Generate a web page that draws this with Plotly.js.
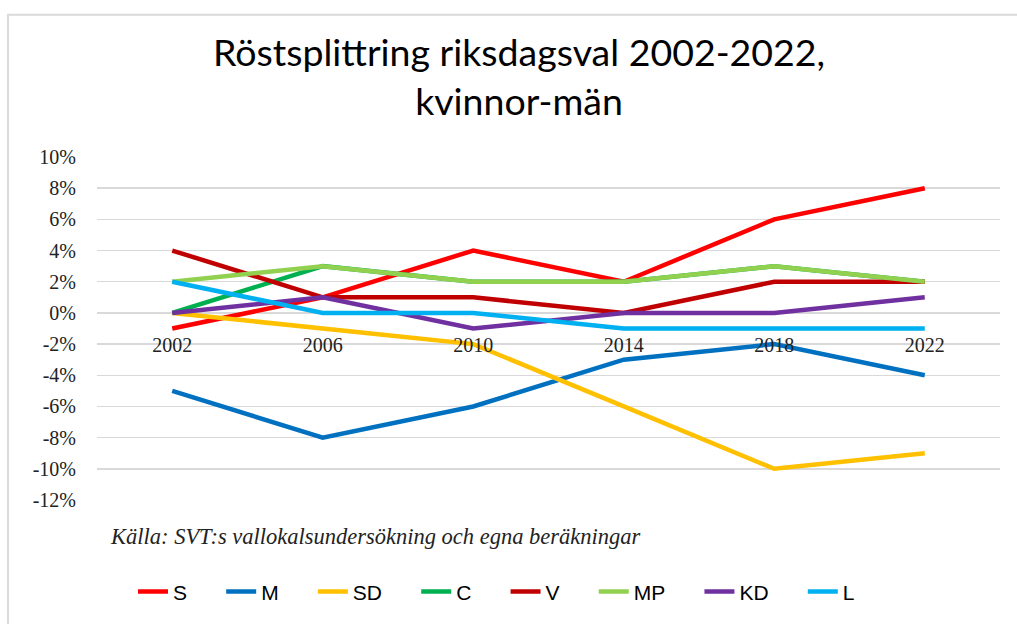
<!DOCTYPE html>
<html>
<head>
<meta charset="utf-8">
<script src="https://cdn.plot.ly/plotly-3.0.1.min.js"></script>
<style>html,body{margin:0;padding:0;background:#fff;}#chart{width:1017px;height:624px;}</style>
</head>
<body>
<div id="chart"></div>
<script>
const years = ["2002", "2006", "2010", "2014", "2018", "2022"];
const seriesNames = ["S", "M", "SD", "C", "V", "MP", "KD", "L"];
const S  = [-1, 1, 4, 2, 6, 8];
const M  = [-5, -8, -6, -3, -2, -4];
const SD = [0, -1, -2, -6, -10, -9];
const C  = [0, 3, 2, 2, 3, 2];
const V  = [4, 1, 1, 0, 2, 2];
const MP = [2, 3, 2, 2, 3, 2];
const KD = [0, 1, -1, 0, 0, 1];
const L  = [2, 0, 0, -1, -1, -1];
const seriesValues = [S, M, SD, C, V, MP, KD, L];
const colors = ["#FF0000", "#0070C0", "#FFC000", "#00B050", "#C00000", "#92D050", "#7030A0", "#00B0F0"];
const yTickVals = [-12, -10, -8, -6, -4, -2, 0, 2, 4, 6, 8, 10];
const yTickText = ["-12%", "-10%", "-8%", "-6%", "-4%", "-2%", "0%", "2%", "4%", "6%", "8%", "10%"];

const pad = "\u00a0\u00a0\u00a0\u00a0\u00a0";
const traces = seriesNames.map((n, i) => ({
  type: "scatter", mode: "lines", name: n + pad,
  x: [0, 1, 2, 3, 4, 5], y: seriesValues[i],
  line: {color: colors[i], width: 4.5, shape: "linear"},
  hoverinfo: "skip"
}));

const plotL = 97, plotR = 1000, plotT = 157, plotB = 504;
const pw = plotR - plotL, ph = plotB - plotT;
const px = v => (v - plotL) / pw;
const py = v => (plotB - v) / ph;

const layout = {
  width: 1017, height: 624,
  margin: {l: plotL, r: 1017 - plotR, t: plotT, b: 624 - plotB, pad: 0},
  paper_bgcolor: "#fff", plot_bgcolor: "#fff",
  showlegend: true,
  xaxis: {
    range: [-0.5, 5.5],
    tickmode: "array", tickvals: [0, 1, 2, 3, 4, 5], ticktext: years,
    showgrid: false, zeroline: false, showline: false,
    ticks: "", anchor: "free", position: 12/22,
    ticklabelstandoff: 18,
    tickfont: {family: "'Liberation Serif', 'DejaVu Serif', serif", size: 20, color: "#222"},
    fixedrange: true
  },
  yaxis: {
    range: [-12, 10],
    tickmode: "array", tickvals: yTickVals, ticktext: yTickText,
    showgrid: true, gridcolor: "#D9D9D9", gridwidth: 1.5,
    zeroline: false, showline: false, ticks: "",
    ticklabelstandoff: 20,
    tickfont: {family: "'Liberation Serif', 'DejaVu Serif', serif", size: 20, color: "#222"},
    fixedrange: true
  },
  legend: {
    orientation: "h", xref: "paper", yref: "paper",
    x: px(511), xanchor: "center", y: py(597), yanchor: "middle",
    font: {family: "'Liberation Sans', Arial, sans-serif", size: 21, color: "#000"},
    tracegroupgap: 0, bgcolor: "rgba(0,0,0,0)"
  },
  annotations: [{
    text: "Röstsplittring riksdagsval 2002-2022,<br>kvinnor-män",
    xref: "paper", yref: "paper", x: px(519), y: py(75),
    xanchor: "center", yanchor: "middle", showarrow: false,
    font: {family: "Lato, 'Noto Sans', sans-serif", size: 37.5, color: "#000"}
  }, {
    text: "Källa: SVT:s vallokalsundersökning och egna beräkningar",
    xref: "paper", yref: "paper", x: px(108), y: py(541),
    xanchor: "left", yanchor: "middle", showarrow: false,
    font: {family: "'Liberation Serif', 'DejaVu Serif', serif", size: 22.5, color: "#222", style: "italic"}
  }],
  shapes: [{
    type: "rect", xref: "paper", yref: "paper",
    x0: px(8), x1: px(1030), y0: py(640), y1: py(13),
    line: {color: "#D9D9D9", width: 2}, fillcolor: "rgba(0,0,0,0)", layer: "above"
  }]
};

Plotly.newPlot("chart", traces, layout, {staticPlot: true, displayModeBar: false});
</script>
</body>
</html>
